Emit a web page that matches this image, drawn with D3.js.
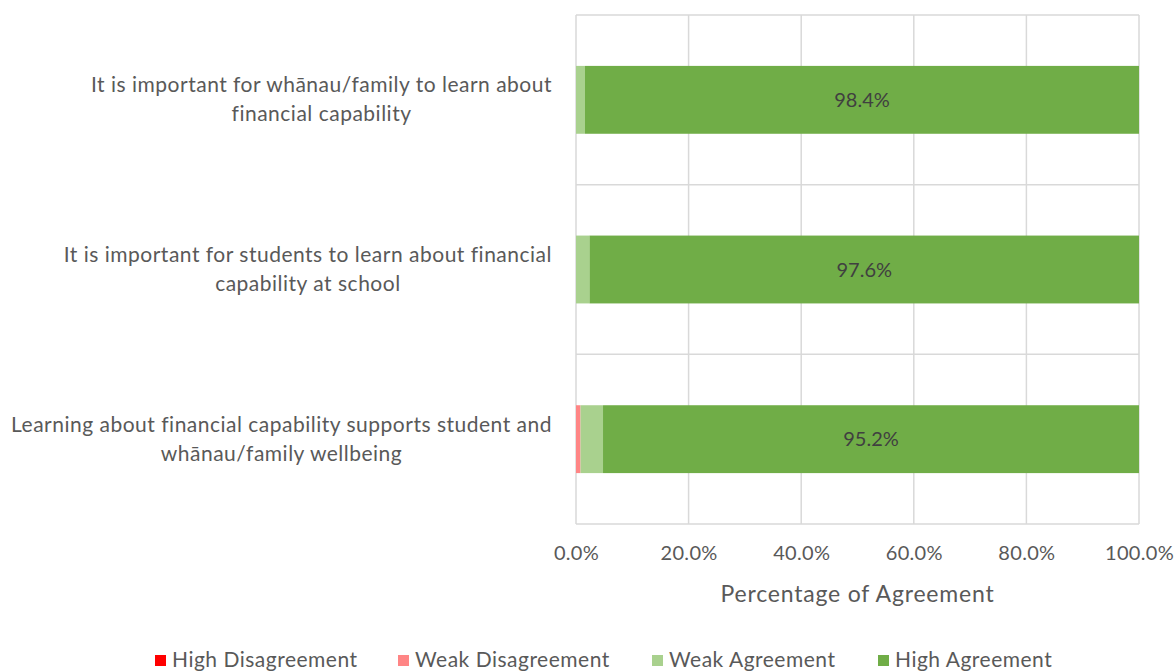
<!DOCTYPE html>
<html>
<head>
<meta charset="utf-8">
<script src="https://cdn.jsdelivr.net/npm/d3@7"></script>
<style>
  body { margin: 0; background: #fff; }
  text { font-family: Lato, sans-serif; fill: #595959; }
</style>
</head>
<body>
<script>
var categories = [
  ["It is important for whānau/family to learn about", "financial capability"],
  ["It is important for students to learn about financial", "capability at school"],
  ["Learning about financial capability supports student and", "whānau/family wellbeing"]
];
var seriesNames = ["High Disagreement", "Weak Disagreement", "Weak Agreement", "High Agreement"];
var highDisagreement = [0, 0, 0];
var weakDisagreement = [0, 0, 0.8];
var weakAgreement = [1.6, 2.4, 4.0];
var highAgreement = [98.4, 97.6, 95.2];
var xTicks = [0, 20, 40, 60, 80, 100];
var colors = ["#ff0000", "#ff8585", "#a9d18e", "#70ad47"];

var W = 1174, H = 671;
var margin = {top: 15, right: 35, bottom: 147, left: 576};
var width = W - margin.left - margin.right,
    height = H - margin.top - margin.bottom;

var svg = d3.select("body").append("svg")
    .attr("width", W).attr("height", H);
var g = svg.append("g")
    .attr("transform", "translate(" + margin.left + "," + margin.top + ")");

var xScale = d3.scaleLinear().domain([0, 100]).range([0, width]);
var yScale = d3.scaleBand()
    .domain(categories.map((d, i) => i))
    .range([0, height])
    .paddingInner(0.6).paddingOuter(0.3);

var rows = categories.map((c, i) => [highDisagreement[i], weakDisagreement[i], weakAgreement[i], highAgreement[i]]);
var stackData = rows.map((r, i) => {
  var o = {i: i};
  seriesNames.forEach((s, k) => o[s] = r[k]);
  return o;
});
var series = d3.stack().keys(seriesNames)(stackData);

// gridlines
var step = height / categories.length;
g.selectAll(".hgrid").data(d3.range(categories.length + 1)).enter()
  .append("line")
  .attr("x1", 0).attr("x2", width)
  .attr("y1", d => d * step).attr("y2", d => d * step)
  .attr("stroke", "#d9d9d9").attr("stroke-width", 1.5);
g.selectAll(".vgrid").data(xTicks).enter()
  .append("line")
  .attr("x1", d => xScale(d)).attr("x2", d => xScale(d))
  .attr("y1", 0).attr("y2", height)
  .attr("stroke", "#d9d9d9").attr("stroke-width", 1.5);

// bars
g.selectAll(".series").data(series).enter()
  .append("g")
  .attr("fill", (d, k) => colors[k])
  .selectAll("rect").data(d => d).enter()
  .append("rect")
  .attr("x", d => xScale(d[0]))
  .attr("y", d => yScale(d.data.i))
  .attr("width", d => xScale(d[1]) - xScale(d[0]))
  .attr("height", yScale.bandwidth());

// data labels on high agreement
var last = series[series.length - 1];
g.selectAll(".dlabel").data(last).enter()
  .append("text")
  .attr("x", d => xScale((d[0] + d[1]) / 2))
  .attr("y", d => yScale(d.data.i) + yScale.bandwidth() / 2)
  .attr("dy", "0.35em")
  .attr("text-anchor", "middle")
  .style("font-size", "20px")
  .style("fill", "#404040")
  .text(d => highAgreement[d.data.i].toFixed(1) + "%");

// category labels: lines centred on each other, block right-aligned
categories.forEach((lines, i) => {
  var cy = yScale(i) + yScale.bandwidth() / 2;
  var t = g.append("text")
    .attr("text-anchor", "middle")
    .style("font-size", "21px")
    .style("letter-spacing", "0.5px");
  var spans = lines.map((ln, j) => t.append("tspan")
      .attr("dy", j === 0 ? "0.35em" : "29px")
      .text(ln));
  var maxW = d3.max(spans, s => s.node().getComputedTextLength());
  var cx = -24 - maxW / 2;
  spans.forEach(s => s.attr("x", cx));
  t.attr("y", cy - 15);
});

// x axis
var xAxis = d3.axisBottom(xScale).tickValues(xTicks)
  .tickFormat(d => d.toFixed(1) + "%").tickSize(0).tickPadding(22);
var ax = g.append("g").attr("transform", "translate(0," + height + ")").call(xAxis);
ax.select(".domain").remove();
ax.selectAll("text").style("font-size", "20px").style("fill", "#595959")
  .style("letter-spacing", "0.3px")
  .style("font-family", "Lato, sans-serif");

g.append("text")
  .attr("x", width / 2).attr("y", height + 78)
  .attr("text-anchor", "middle")
  .style("font-size", "23px")
  .style("letter-spacing", "0.8px")
  .text("Percentage of Agreement");

// legend
var legendX = [155, 398, 652, 878];
var legend = svg.append("g").attr("transform", "translate(0,658)");
seriesNames.forEach((s, k) => {
  legend.append("rect").attr("x", legendX[k]).attr("y", -3).attr("width", 11).attr("height", 11)
    .attr("fill", colors[k]);
  legend.append("text").attr("x", legendX[k] + 17).attr("y", 2).attr("dy", "0.35em")
    .style("font-size", "21px").style("letter-spacing", "0.5px").text(s);
});
</script>
</body>
</html>
